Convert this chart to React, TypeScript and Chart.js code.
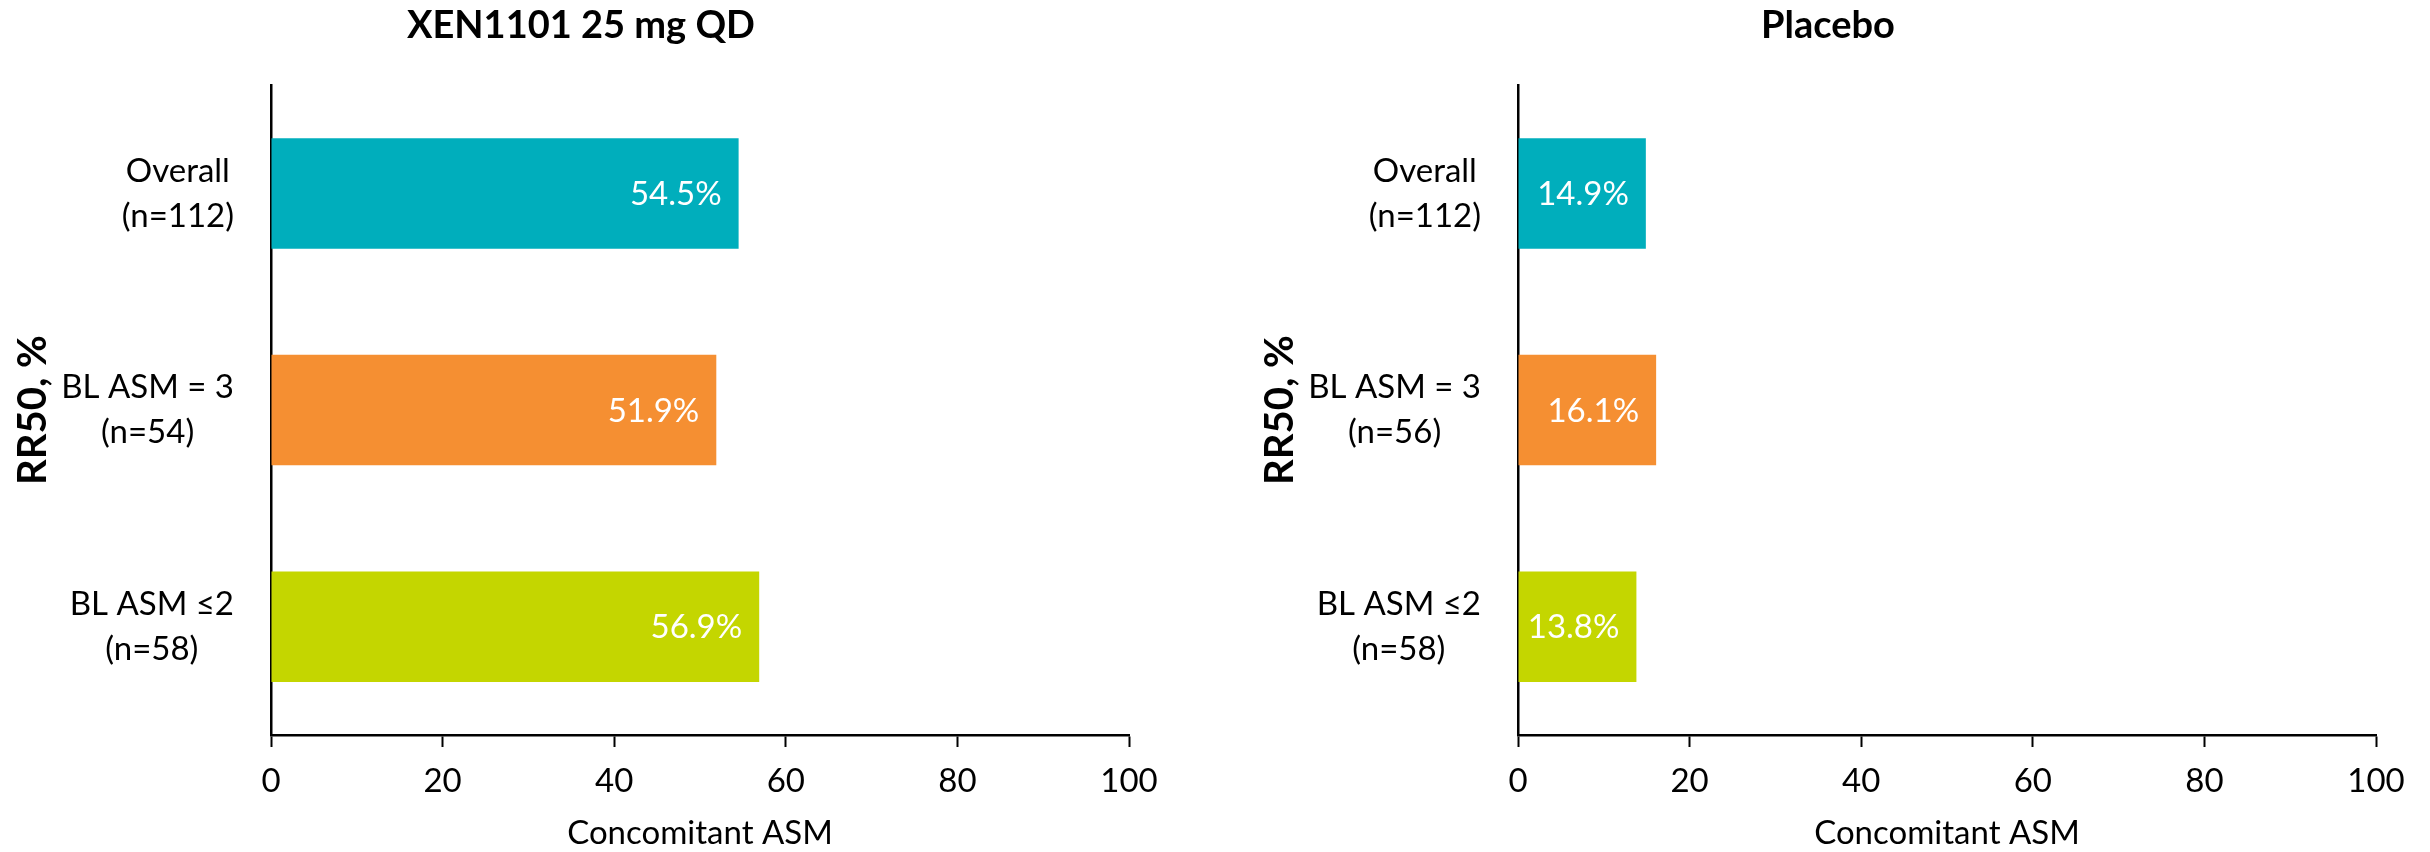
import React, { useEffect, useRef } from "react";
import { Chart, registerables } from "chart.js";

Chart.register(...registerables);

// ---- data ----
const xenCategories: string[][] = [
  ["Overall", "(n=112)"],
  ["BL ASM = 3", "(n=54)"],
  ["BL ASM \u22642", "(n=58)"],
];
const placeboCategories: string[][] = [
  ["Overall", "(n=112)"],
  ["BL ASM = 3", "(n=56)"],
  ["BL ASM \u22642", "(n=58)"],
];
const xenValues = [54.5, 51.9, 56.9];
const placeboValues = [14.9, 16.1, 13.8];
const barColors = ["#00AEBC", "#F58F32", "#C4D600"];
const xTickValues = [0, 20, 40, 60, 80, 100];
const xenTitle = "XEN1101 25 mg QD";
const placeboTitle = "Placebo";
const yAxisTitle = "RR50, %";
const xAxisTitle = "Concomitant ASM";

// ---- styling ----
const FONT = "Lato, 'Liberation Sans', sans-serif";
const TEXT_SIZE = 33;
const TITLE_SIZE = 38;
const Y_TITLE_SIZE = 40;
const CANVAS_W = 1162;
const CANVAS_H = 852;
const AXIS_LEFT = 271;
const AXIS_RIGHT_GAP = 33;
const X_AXIS_HEIGHT = 117;
const LABEL_GAP = 37;
const LINE_GAP = 45;
const VALUE_INSET = 17;

// Two-line category labels: each label's lines are centred on one another,
// with the widest line ending a fixed gap left of the value axis.
const categoryLabelPlugin = {
  id: "categoryLabels",
  afterDraw(chart: any) {
    const { ctx, chartArea } = chart;
    const yScale = chart.scales.y;
    const labels = chart.data.labels as string[][];
    ctx.save();
    ctx.font = `${TEXT_SIZE}px ${FONT}`;
    ctx.fillStyle = "#000";
    ctx.textAlign = "center";
    ctx.textBaseline = "middle";
    const right = chartArea.left - LABEL_GAP;
    labels.forEach((lines, i) => {
      const y = yScale.getPixelForValue(i);
      const widest = Math.max(...lines.map((l) => ctx.measureText(l).width));
      const cx = right - widest / 2;
      lines.forEach((line, j) => {
        ctx.fillText(line, cx, y + (j - (lines.length - 1) / 2) * LINE_GAP);
      });
    });
    ctx.restore();
  },
};

// Percent labels inside the end of each bar.
const valueLabelPlugin = {
  id: "valueLabels",
  afterDatasetsDraw(chart: any) {
    const { ctx } = chart;
    const meta = chart.getDatasetMeta(0);
    const values = chart.data.datasets[0].data as number[];
    ctx.save();
    ctx.font = `${TEXT_SIZE}px ${FONT}`;
    ctx.fillStyle = "#fff";
    ctx.textAlign = "right";
    ctx.textBaseline = "middle";
    meta.data.forEach((bar: any, i: number) => {
      ctx.fillText(`${values[i].toFixed(1)}%`, bar.x - VALUE_INSET, bar.y + 1);
    });
    ctx.restore();
  },
};

function BarPanel({ title, categories, values }: { title: string; categories: string[][]; values: number[] }) {
  const ref = useRef<HTMLCanvasElement | null>(null);

  useEffect(() => {
    if (!ref.current) return;
    const chart = new Chart(ref.current, {
      type: "bar",
      data: {
        labels: categories as any,
        datasets: [
          {
            data: values,
            backgroundColor: barColors,
            borderWidth: 0,
            categoryPercentage: 1,
            barPercentage: 0.51,
          },
        ],
      },
      options: {
        indexAxis: "y",
        responsive: false,
        animation: false,
        devicePixelRatio: 1,
        layout: { padding: 0 },
        plugins: {
          legend: { display: false },
          tooltip: { enabled: false },
          title: {
            display: true,
            text: title,
            color: "#000",
            font: { family: FONT, size: TITLE_SIZE, weight: "bold", lineHeight: 1.2 },
            padding: { top: 3, bottom: 36.6 },
          },
        },
        scales: {
          x: {
            type: "linear",
            min: 0,
            max: 100,
            afterBuildTicks: (scale: any) => {
              scale.ticks = xTickValues.map((v) => ({ value: v }));
            },
            afterFit: (scale: any) => {
              scale.height = X_AXIS_HEIGHT;
              scale.paddingLeft = 0;
              scale.paddingRight = AXIS_RIGHT_GAP;
            },
            ticks: {
              color: "#000",
              font: { family: FONT, size: TEXT_SIZE },
              padding: 15,
              maxRotation: 0,
            },
            grid: {
              display: true,
              drawOnChartArea: false,
              drawTicks: true,
              tickLength: 12,
              tickColor: "#000",
              tickWidth: 2,
            },
            border: { display: true, color: "#000", width: 2.5 },
            title: {
              display: true,
              text: xAxisTitle,
              color: "#000",
              font: { family: FONT, size: TEXT_SIZE, lineHeight: 1.0 },
              padding: { top: 0, bottom: 2 },
            },
          },
          y: {
            type: "category",
            afterFit: (scale: any) => {
              scale.width = AXIS_LEFT;
            },
            ticks: { display: false },
            grid: { display: false },
            border: { display: true, color: "#000", width: 2.5 },
            title: {
              display: true,
              text: yAxisTitle,
              color: "#000",
              font: { family: FONT, size: Y_TITLE_SIZE, weight: "bold", lineHeight: 1.2 },
              padding: { top: 9, bottom: 0 },
            },
          },
        },
      } as any,
      plugins: [categoryLabelPlugin, valueLabelPlugin],
    });
    return () => chart.destroy();
  }, [title, categories, values]);

  return (
    <canvas
      ref={ref}
      width={CANVAS_W}
      height={CANVAS_H}
      style={{ display: "block", width: CANVAS_W, height: CANVAS_H }}
    />
  );
}

export default function App() {
  return (
    <div
      style={{
        position: "absolute",
        left: 0,
        top: 0,
        width: 2430,
        height: 852,
        background: "#fff",
        overflow: "hidden",
      }}
    >
      <div style={{ position: "absolute", left: 0, top: 0 }}>
        <BarPanel title={xenTitle} categories={xenCategories} values={xenValues} />
      </div>
      <div style={{ position: "absolute", left: 1247, top: 0 }}>
        <BarPanel title={placeboTitle} categories={placeboCategories} values={placeboValues} />
      </div>
    </div>
  );
}
